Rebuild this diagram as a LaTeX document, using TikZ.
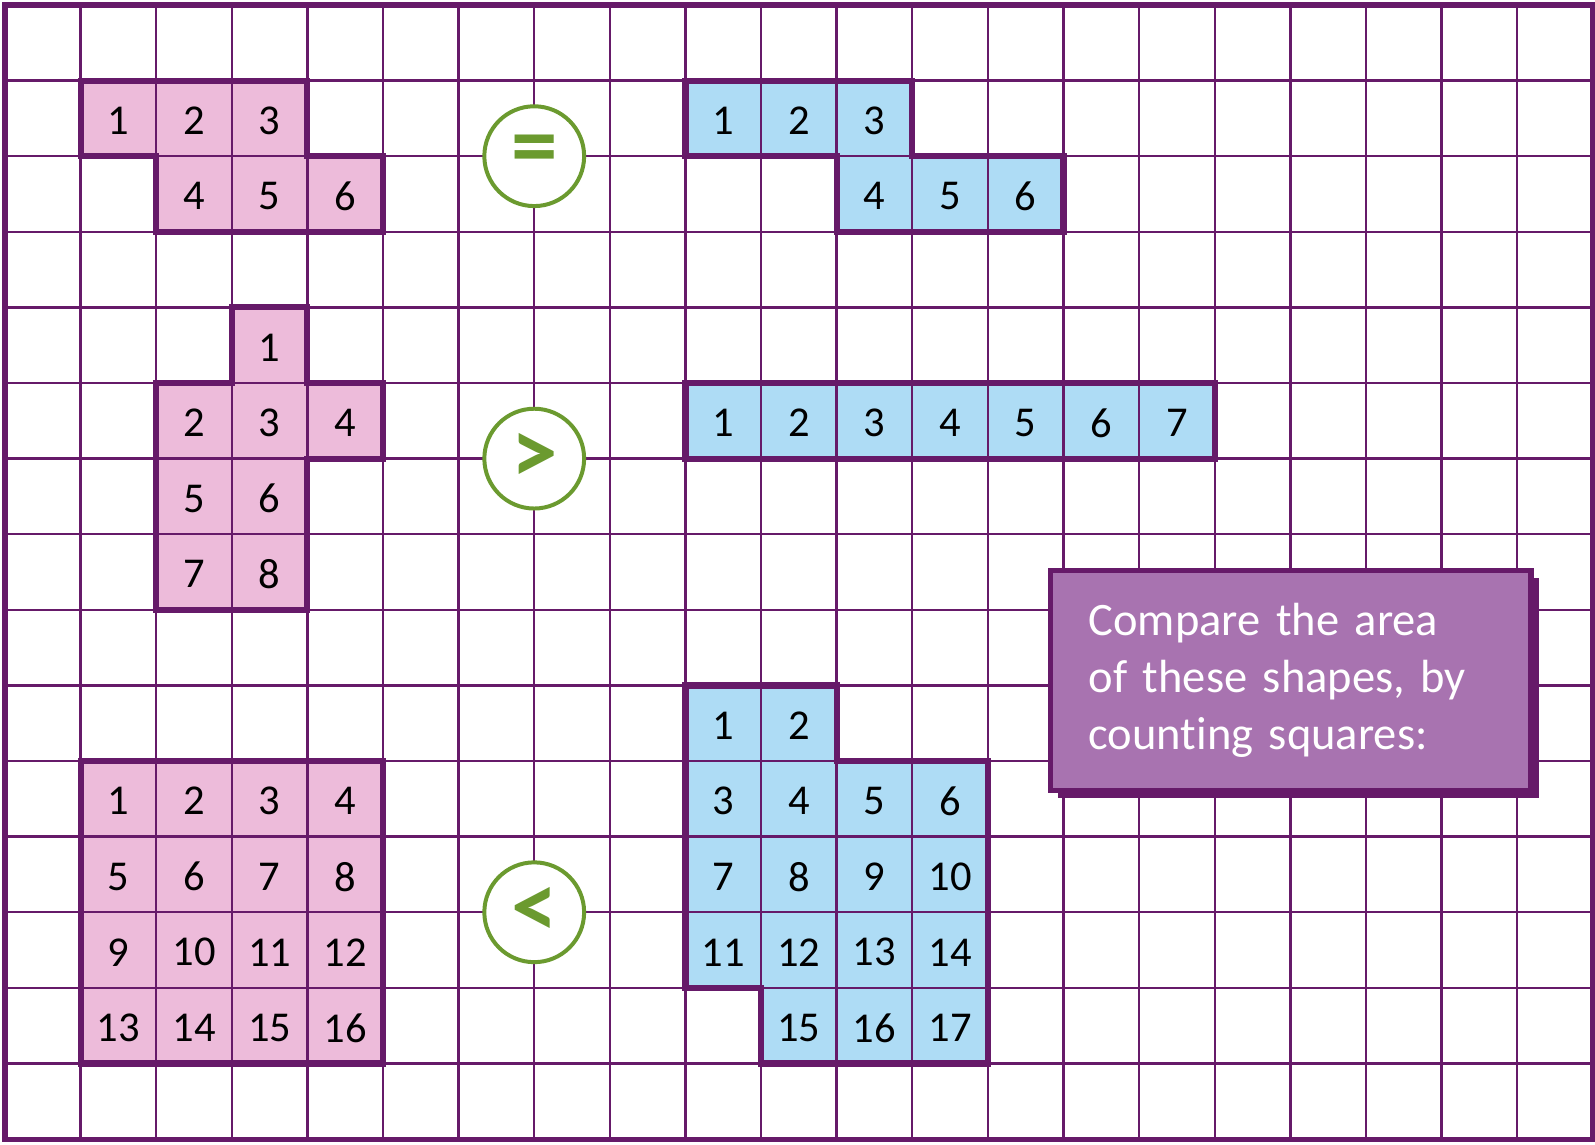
\documentclass[tikz,border=0pt]{standalone}
\usepackage{fontspec}
\setmainfont[Ligatures=NoCommon]{Carlito}
\usepackage{xcolor}
\usepackage{tikz}
\usetikzlibrary{positioning,shadows}
\definecolor{gPurple}{HTML}{661A69}
\definecolor{gPink}{HTML}{EDBBDA}
\definecolor{gBlue}{HTML}{AEDCF5}
\definecolor{gGreen}{HTML}{6B9A2F}
\definecolor{gNote}{HTML}{A873B0}

\begin{document}
\begin{tikzpicture}[font=\fontsize{16}{19}\selectfont,
  pc/.style={fill=gPink, minimum size=1cm, inner sep=0pt},
  bc/.style={fill=gBlue, minimum size=1cm, inner sep=0pt},
  ol/.style={gPurple, line width=2.3pt, line join=miter},
  sym/.style={circle, draw=gGreen, line width=1.5pt, fill=white, minimum size=1.32cm, inner sep=0pt, text=gGreen, font=\fontsize{35}{35}\selectfont\bfseries},
  note/.style={draw=gPurple, line width=1.9pt, fill=gNote, text=white, align=left, text width=5.35cm, minimum width=6.35cm, minimum height=2.9cm, inner xsep=0.45cm, font=\fontsize{17.5}{21.3}\selectfont,
    drop shadow={shadow xshift=0.1cm, shadow yshift=-0.1cm, fill=gPurple, opacity=1}}]
\useasboundingbox (-0.066,-0.066) rectangle (21.03,15.066);

% first pair
\foreach \x/\y/\n in {1/13/1,2/13/2,3/13/3,2/12/4,3/12/5,4/12/6}
  \node[pc] (pa\n) at (\x+.5,\y+.47) {\n};
\foreach \x/\y/\n in {9/13/1,10/13/2,11/13/3,11/12/4,12/12/5,13/12/6}
  \node[bc] (ba\n) at (\x+.5,\y+.47) {\n};

% second pair
\foreach \x/\y/\n in {3/10/1,2/9/2,3/9/3,4/9/4,2/8/5,3/8/6,2/7/7,3/7/8}
  \node[pc] (pb\n) at (\x+.5,\y+.47) {\n};
\foreach \n in {1,...,7}
  \node[bc] (bb\n) at (8.5+\n,9.47) {\n};

% third pair
\foreach \r in {0,...,3}
  \foreach \c in {0,...,3}{
    \pgfmathtruncatemacro{\n}{4*\r+\c+1}
    \node[pc] (pc\n) at (1.5+\c,4.47-\r) {\n};
  }
\foreach \x/\y/\n in {9/5/1,10/5/2,9/4/3,10/4/4,11/4/5,12/4/6,9/3/7,10/3/8,11/3/9,12/3/10,
  9/2/11,10/2/12,11/2/13,12/2/14,10/1/15,11/1/16,12/1/17}
  \node[bc] (bc\n) at (\x+.5,\y+.47) {\n};

% grid and border
\draw[gPurple, line width=0.9pt] (0,0) grid (21,15);
\draw[gPurple, line width=1.9pt] (0,0) rectangle (21,15);

% outlines
\draw[ol] (1,14) -- (4,14) -- (4,13) -- (5,13) -- (5,12) -- (2,12) -- (2,13) -- (1,13) -- cycle;
\draw[ol] (9,14) -- (12,14) -- (12,13) -- (14,13) -- (14,12) -- (11,12) -- (11,13) -- (9,13) -- cycle;
\draw[ol] (3,11) -- (4,11) -- (4,10) -- (5,10) -- (5,9) -- (4,9) -- (4,7) -- (2,7) -- (2,10) -- (3,10) -- cycle;
\draw[ol] (9,9) rectangle (16,10);
\draw[ol] (1,1) rectangle (5,5);
\draw[ol] (9,6) -- (11,6) -- (11,5) -- (13,5) -- (13,1) -- (10,1) -- (10,2) -- (9,2) -- cycle;

% signs
\node[sym] (eq) at (7,13) {=};
\node[sym] (gt) at (7,9) {>};
\node[sym] (lt) at (7,3) {<};

% task
\node[note, anchor=north west] (task) at (13.8,7.55) {Compare the area\\of these shapes, by\\counting squares:};
\end{tikzpicture}
\end{document}
